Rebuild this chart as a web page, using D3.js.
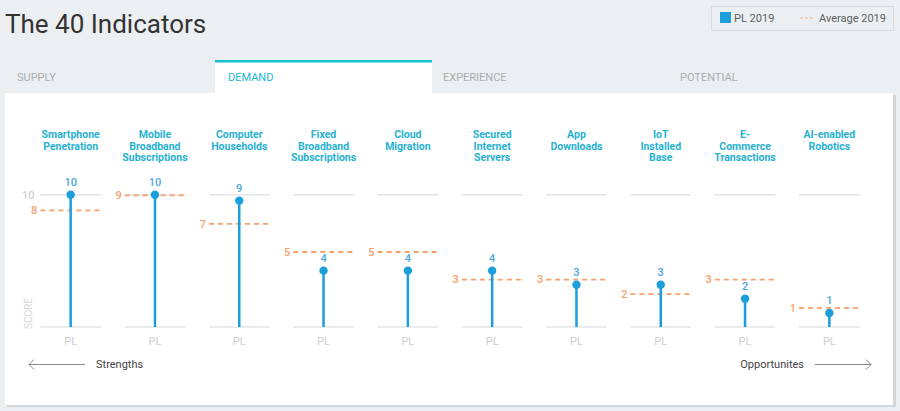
<!DOCTYPE html>
<html><head><meta charset="utf-8">
<script src="https://cdn.jsdelivr.net/npm/d3@7"></script>
<style>
html,body{margin:0;padding:0;background:#eceff1;}
svg{display:block;font-family:Roboto,"Noto Sans",sans-serif;}
</style></head><body>
<svg id="chart" width="900" height="411"></svg>
<script>
const categories = [
  ["Smartphone","Penetration"],
  ["Mobile","Broadband","Subscriptions"],
  ["Computer","Households"],
  ["Fixed","Broadband","Subscriptions"],
  ["Cloud","Migration"],
  ["Secured","Internet","Servers"],
  ["App","Downloads"],
  ["IoT","Installed","Base"],
  ["E-","Commerce","Transactions"],
  ["AI-enabled","Robotics"]
];
const plValues  = [10, 10, 9.55, 4.26, 4.26, 4.26, 3.2, 3.2, 2.14, 1.06];
const avgValues = [8.82, 9.95, 7.79, 5.67, 5.67, 3.58, 3.58, 2.49, 3.58, 1.44];
const tabs = ["SUPPLY","DEMAND","EXPERIENCE","POTENTIAL"];
const activeTab = "DEMAND";
const seriesName = "PL";
const legendLabels = ["PL 2019","Average 2019"];
const yTicks = [10];

const svg = d3.select("#chart");
const BLUE = "#1a9fdb", LABELBLUE = "#4aa8dc", HEAD = "#27b1d1", ORANGE = "#f6a06c", GRID = "#e3e4e6";

// Title
svg.append("text").attr("x",5).attr("y",33).attr("font-size",26).attr("fill","#333")
  .text("The 40 Indicators");

// Legend
const lg = svg.append("g");
lg.append("rect").attr("x",711.5).attr("y",6.5).attr("width",182).attr("height",24)
  .attr("fill","none").attr("stroke","#dadddf");
lg.append("rect").attr("x",720).attr("y",12).attr("width",11).attr("height",11).attr("fill",BLUE);
lg.append("text").attr("x",734).attr("y",22).attr("font-size",11).attr("fill","#5a5f63").text(legendLabels[0]);
lg.append("line").attr("x1",800).attr("x2",813).attr("y1",18).attr("y2",18)
  .attr("stroke","#f6b48c").attr("stroke-width",1).attr("stroke-dasharray","3,2");
lg.append("text").attr("x",819).attr("y",22).attr("font-size",11).attr("fill","#5a5f63").text(legendLabels[1]);

// Panel shadow + panel
svg.append("rect").attr("x",7).attr("y",95).attr("width",889).attr("height",312).attr("fill","#d3d6d8");
svg.append("rect").attr("x",5).attr("y",93).attr("width",888).attr("height",312).attr("fill","#fff");

// Tabs
const tabX = d3.scaleOrdinal().domain(tabs).range([17,228,443,680]);
svg.append("rect").attr("x",215).attr("y",62).attr("width",217).attr("height",32).attr("fill","#fff");
svg.append("rect").attr("x",215).attr("y",60).attr("width",217).attr("height",2.5).attr("fill","#15c0d0");
svg.selectAll("text.tab").data(tabs).join("text").attr("class","tab")
  .attr("x",d=>tabX(d)).attr("y",81).attr("font-size",11)
  .attr("fill",d=>d===activeTab?"#22b8cf":"#a9adb0").text(d=>d);

// Scales
const idx = d3.range(categories.length);
const x = d3.scaleBand().domain(idx).range([28.5,871.5]).padding(0);
const cx = i => x(i) + x.bandwidth()/2;
const y = d3.scaleLinear().domain([0,10]).range([327,194.7]);
const half = 30.3;

const g = svg.append("g");

// Headers
idx.forEach(i=>{
  const t = g.append("text").attr("text-anchor","middle").attr("font-size",10.5)
    .attr("font-weight","bold").attr("fill",HEAD);
  categories[i].forEach((ln,k)=>{
    t.append("tspan").attr("x",cx(i)).attr("y",138+k*11.5).text(ln);
  });
});

// Grid lines (top and baseline)
idx.forEach(i=>{
  [10,0].forEach(v=>{
    g.append("line").attr("x1",cx(i)-half).attr("x2",cx(i)+half)
      .attr("y1",y(v)).attr("y2",y(v)).attr("stroke",GRID).attr("stroke-width",1.5);
  });
});

// Y tick label and axis title
g.selectAll("text.ytick").data(yTicks).join("text").attr("class","ytick")
  .attr("x",cx(0)-half-6).attr("y",d=>y(d)).attr("dy","0.35em").attr("text-anchor","end")
  .attr("font-size",11).attr("fill","#c8c8c8").text(d=>d);
g.append("text").attr("transform",`translate(${cx(0)-half-8},${y(0)+2}) rotate(-90)`)
  .attr("font-size",10).attr("fill","#d8d8d8").text("SCORE");

// Average dashed lines
g.selectAll("line.avg").data(avgValues).join("line").attr("class","avg")
  .attr("x1",(d,i)=>cx(i)-half).attr("x2",(d,i)=>cx(i)+half)
  .attr("y1",d=>y(d)).attr("y2",d=>y(d))
  .attr("stroke",ORANGE).attr("stroke-width",1.8).attr("stroke-dasharray","5,4");
g.selectAll("text.avgl").data(avgValues).join("text").attr("class","avgl")
  .attr("x",(d,i)=>cx(i)-half-3).attr("y",d=>y(d)).attr("dy","0.35em").attr("text-anchor","end")
  .attr("font-size",11).attr("font-weight",500).attr("fill",ORANGE).text(d=>Math.floor(d));

// Stems
g.selectAll("line.stem").data(plValues).join("line").attr("class","stem")
  .attr("x1",(d,i)=>cx(i)).attr("x2",(d,i)=>cx(i))
  .attr("y1",y(0)).attr("y2",d=>y(d)).attr("stroke",BLUE).attr("stroke-width",2.5);
g.selectAll("circle.dot").data(plValues).join("circle").attr("class","dot")
  .attr("cx",(d,i)=>cx(i)).attr("cy",d=>y(d)).attr("r",4.2).attr("fill",BLUE);
g.selectAll("text.val").data(plValues).join("text").attr("class","val")
  .attr("x",(d,i)=>cx(i)).attr("y",d=>y(d)-9).attr("text-anchor","middle")
  .attr("font-size",11).attr("font-weight",500).attr("fill",LABELBLUE).text(d=>Math.floor(d));

// X labels
g.selectAll("text.xl").data(idx).join("text").attr("class","xl")
  .attr("x",i=>cx(i)).attr("y",344.5).attr("text-anchor","middle")
  .attr("font-size",11).attr("fill","#cfcfcf").text(seriesName);

// Bottom arrows
const ar = svg.append("g").attr("stroke","#8a8a8a").attr("stroke-width",1).attr("fill","none");
ar.append("line").attr("x1",29).attr("x2",85).attr("y1",364.5).attr("y2",364.5);
ar.append("path").attr("d","M34,359.5 L29,364.5 L34,369.5");
ar.append("line").attr("x1",815).attr("x2",871).attr("y1",364.5).attr("y2",364.5);
ar.append("path").attr("d","M866,359.5 L871,364.5 L866,369.5");
svg.append("text").attr("x",96).attr("y",368).attr("font-size",11).attr("fill","#444").text("Strengths");
svg.append("text").attr("x",804).attr("y",368).attr("text-anchor","end").attr("font-size",11).attr("fill","#444").text("Opportunites");
</script>
</body></html>
